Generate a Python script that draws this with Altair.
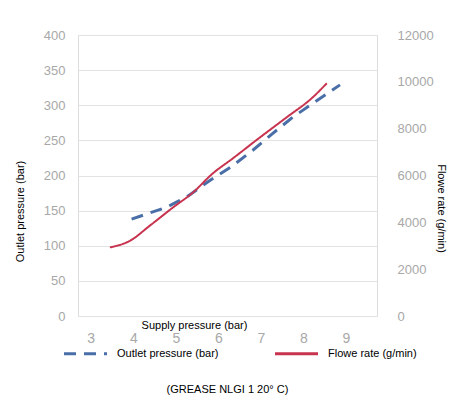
import altair as alt
import pandas as pd

# Data
outlet_x = [3.96, 4.79, 5.29, 5.80, 6.34, 6.81, 7.28, 7.75, 8.23, 8.86]
outlet_y = [138, 155, 171, 193, 214, 236, 260, 283, 303, 329]
flow_x = [3.45, 3.92, 4.39, 4.93, 5.40, 5.87, 6.34, 6.98, 7.61, 8.22, 8.55]
flow_y = [2930, 3210, 3860, 4630, 5270, 6090, 6730, 7630, 8490, 9340, 9940]

series_names = ["Outlet pressure (bar)", "Flowe rate (g/min)"]
x_ticks = [3, 4, 5, 6, 7, 8, 9]
left_ticks = [0, 50, 100, 150, 200, 250, 300, 350, 400]
right_ticks = [0, 2000, 4000, 6000, 8000, 10000, 12000]
caption = "(GREASE NLGI 1 20° C)"

df_out = pd.DataFrame({"x": outlet_x, "y": outlet_y, "series": series_names[0]})
df_flow = pd.DataFrame({"x": flow_x, "y": flow_y, "series": series_names[1]})

BLUE = "#4a6fa8"
RED = "#c8344f"
FONT = "Liberation Sans"

legend = alt.Legend(
    orient="none", legendX=-16, legendY=295, direction="horizontal", title=None,
    symbolType="stroke", symbolSize=1850, symbolStrokeWidth=3,
    labelFont=FONT, labelFontSize=11, labelColor="black", labelOffset=8,
    columnPadding=49, padding=0,
)

color = alt.Color("series:N", scale=alt.Scale(domain=series_names, range=[BLUE, RED]), legend=legend)
dash = alt.StrokeDash("series:N", scale=alt.Scale(domain=series_names, range=[[12, 8], [1, 0]]), legend=legend)

x_enc = alt.X(
    "x:Q",
    scale=alt.Scale(domain=[2.7, 9.73], nice=False, zero=False),
    axis=alt.Axis(
        values=x_ticks, title="Supply pressure (bar)", grid=False, domain=False, ticks=False,
        labelFont=FONT, labelFontSize=14, labelColor="#a8a8a8", labelPadding=15,
        titleFont=FONT, titleFontSize=11, titleFontWeight="normal", titleColor="black",
        titleX=116, titleY=9, titleBaseline="middle",
    ),
)

outlet = alt.Chart(df_out).mark_line(strokeWidth=3).encode(
    x=x_enc,
    y=alt.Y(
        "y:Q",
        scale=alt.Scale(domain=[0, 400], nice=False),
        axis=alt.Axis(
            orient="left", values=left_ticks, title="Outlet pressure (bar)",
            grid=True, gridColor="#e2e2e2", domain=False, ticks=False,
            labelFont=FONT, labelFontSize=13, labelColor="#a8a8a8", labelPadding=13,
            titleFont=FONT, titleFontSize=11, titleFontWeight="normal", titleColor="black",
            titleX=-58, titleY=176, titleAngle=270, titleBaseline="middle", titleAlign="center",
        ),
    ),
    color=color,
    strokeDash=dash,
)

flow = alt.Chart(df_flow).mark_line(strokeWidth=2, interpolate="monotone").encode(
    x=x_enc,
    y=alt.Y(
        "y:Q",
        scale=alt.Scale(domain=[0, 12000], nice=False),
        axis=alt.Axis(
            orient="right", values=right_ticks, format="d", title="Flowe rate (g/min)",
            grid=False, domain=False, ticks=False,
            labelFont=FONT, labelFontSize=13, labelColor="#a8a8a8", labelPadding=20,
            titleFont=FONT, titleFontSize=11, titleFontWeight="normal", titleColor="black",
            titleX=63, titleY=173, titleAngle=90, titleBaseline="middle", titleAlign="center",
        ),
    ),
    color=color,
    strokeDash=dash,
)

chart = (
    alt.layer(outlet, flow)
    .resolve_scale(y="independent")
    .properties(
        width=299, height=281,
        autosize=alt.AutoSizeParams(type="none"),
        padding={"left": 70, "top": 27, "right": 72, "bottom": 79},
        title=alt.TitleParams(
            caption, orient="bottom", anchor="middle", frame="group",
            font=FONT, fontSize=11, fontWeight="normal", color="black", offset=24,
        ),
    )
    .configure_view(fill="#f0f0f0", stroke=None)
    .configure(background="white")
)

chart.save("out.html", embed_options={"renderer": "svg", "actions": False})
